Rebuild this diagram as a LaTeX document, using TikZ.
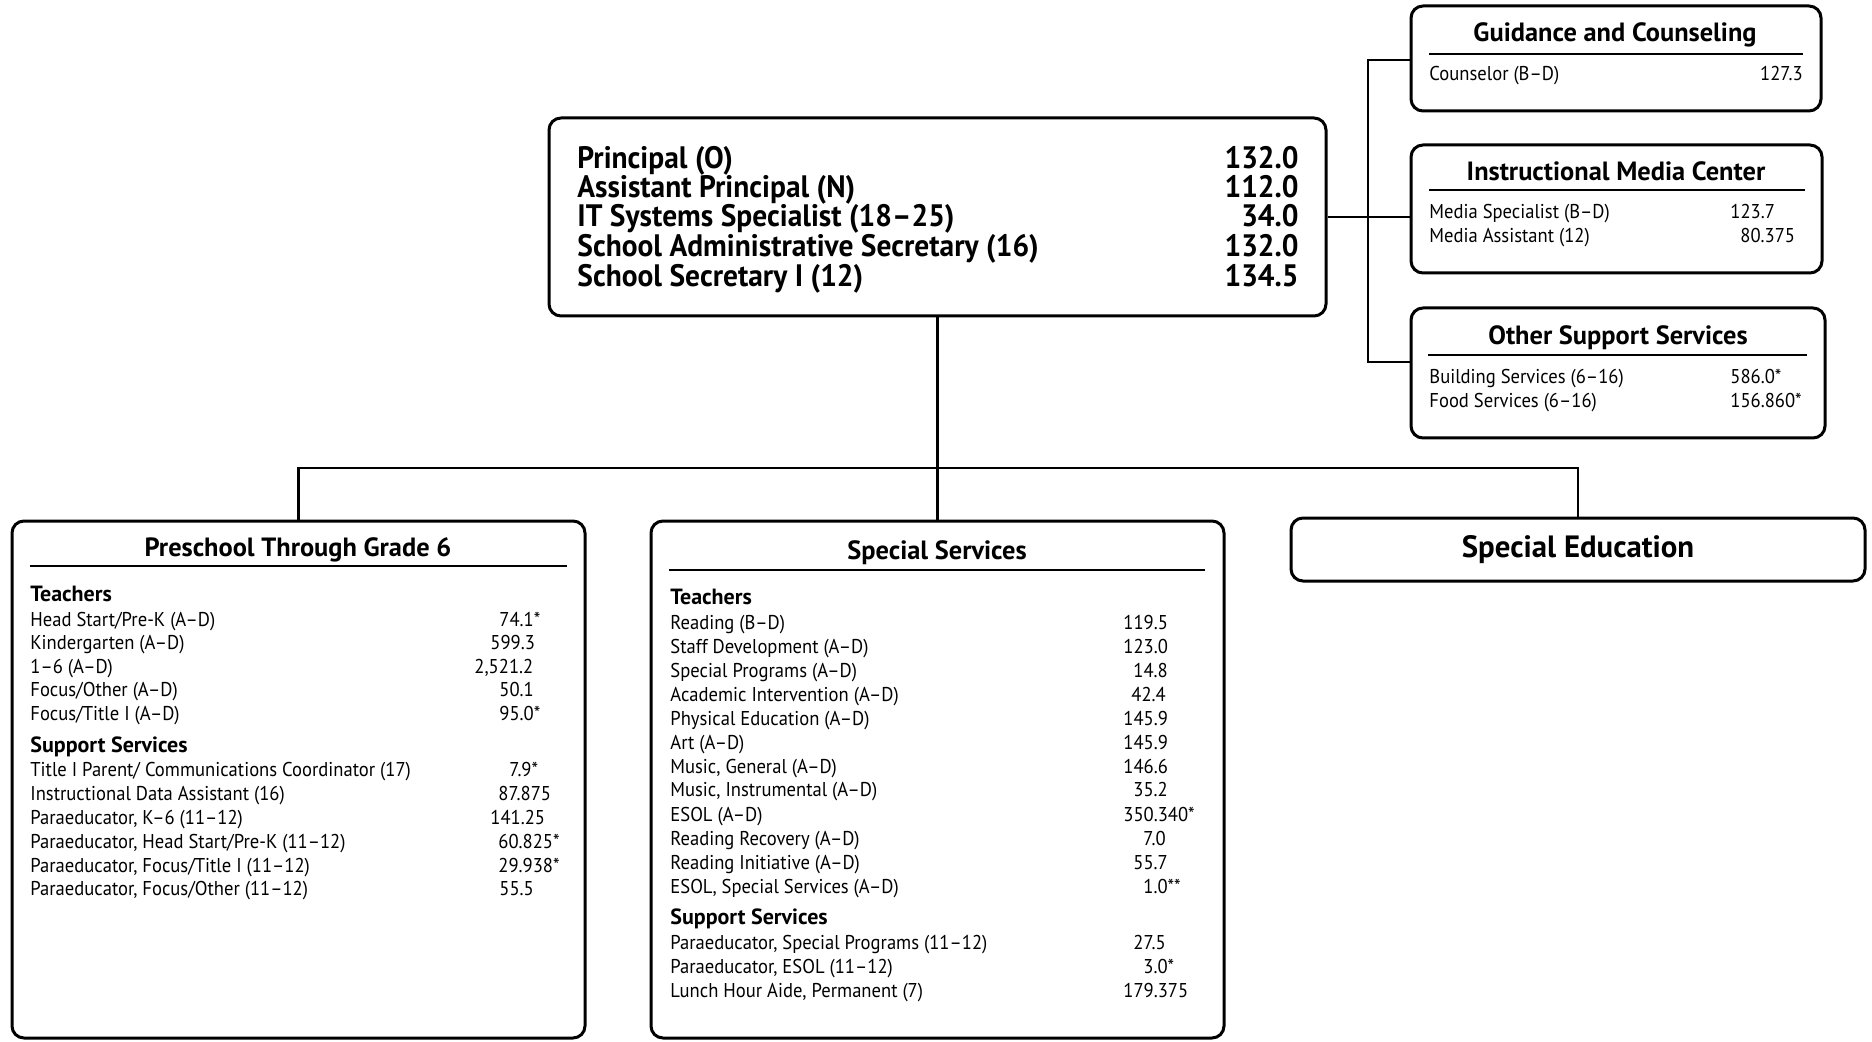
\documentclass[tikz,border=0pt]{standalone}
\usepackage{fontspec}
\setmainfont{PT Sans}
\newfontfamily\bodyfnt{PT Sans}[FakeStretch=0.93]
\newfontfamily\condfnt{PT Sans}[FakeStretch=0.95]
\newfontfamily\headfnt{PT Sans}
\usetikzlibrary{fit}
\tikzset{
  box/.style={draw, line width=1.5pt, rounded corners=6pt, inner sep=0pt},
  conn/.style={line width=1.1pt},
  rulel/.style={line width=0.8pt},
  body/.style={anchor=west, inner sep=0pt, font=\bodyfnt\fontsize{10}{12}\selectfont, text height=1.6ex, text depth=0.25ex},
  bodyr/.style={body, anchor=east},
  sub/.style={body, font=\headfnt\bfseries\fontsize{11}{13}\selectfont},
  head/.style={inner sep=0pt, font=\headfnt\bfseries\fontsize{13.2}{15}\selectfont, text height=1.6ex, text depth=0.25ex, yshift=-1.2pt},
  big/.style={anchor=west, inner sep=0pt, font=\condfnt\bfseries\fontsize{15.5}{17}\selectfont, text height=1.6ex, text depth=0.25ex, yshift=-1.8pt},
  bigr/.style={big, anchor=east},
}
\newcommand\rowitem[6]{%
  \node[body] (#1l) at (#2,#3) {#4};
  \node[body] (#1n) at (#5,#3) {#6};}
\begin{document}
\begin{tikzpicture}[x=0.5pt,y=-0.5pt]
\useasboundingbox[fill=white] (0,0) rectangle (1872,1042);

% ---- main box
\node[box, fit={(549,118) (1326,316)}] (main) {};
\node[big]  (m1) at (577,158) {Principal (O)};
\node[bigr] (m1n) at (1299,158) {132.0};
\node[big]  (m2) at (577,187) {Assistant Principal (N)};
\node[bigr] (m2n) at (1299,187) {112.0};
\node[big]  (m3) at (577,216) {IT Systems Specialist (18–25)};
\node[bigr] (m3n) at (1299,216) {34.0};
\node[big]  (m4) at (577,246) {School Administrative Secretary (16)};
\node[bigr] (m4n) at (1299,246) {132.0};
\node[big]  (m5) at (577,276) {School Secretary I (12)};
\node[bigr] (m5n) at (1299,276) {134.5};

% ---- right boxes
\node[box, fit={(1411,6) (1821,111)}] (guid) {};
\node[head] (guidt) at (1615,32) {Guidance and Counseling};
\draw[rulel] (1429,54) -- (1803,54);
\node[body] (g1l) at (1429,74) {Counselor (B–D)};
\node[bodyr] (g1n) at (1803,74) {127.3};

\node[box, fit={(1411,145) (1822,273)}] (imc) {};
\node[head] (imct) at (1616,171) {Instructional Media Center};
\draw[rulel] (1429,190) -- (1805,190);
\rowitem{i1}{1429}{212}{Media Specialist (B–D)}{1730}{123.7}
\rowitem{i2}{1429}{236}{Media Assistant (12)}{1740}{80.375}

\node[box, fit={(1411,308) (1825,438)}] (oss) {};
\node[head] (osst) at (1618,335) {Other Support Services};
\draw[rulel] (1428,355) -- (1807,355);
\rowitem{o1}{1429}{377}{Building Services (6–16)}{1730}{586.0*}
\rowitem{o2}{1429}{401}{Food Services (6–16)}{1730}{156.860*}

% right connectors
\coordinate (jt) at (1368,60);
\coordinate (jb) at (1368,362);
\draw[conn] (jt -| guid.west) -- (jt) -- (jb) -- (jb -| oss.west);
\draw[conn] (main.east) -- (main.east -| imc.west);

% ---- bottom boxes
\node[box, fit={(12,521) (585,1038)}] (pre) {};
\node[head] (pret) at (298,547) {Preschool Through Grade 6};
\draw[rulel] (30,566) -- (567,566);
\node[sub] (pteach) at (30,595) {Teachers};
\rowitem{p1}{30}{620}{Head Start/Pre-K (A–D)}{499}{74.1*}
\rowitem{p2}{30}{643}{Kindergarten (A–D)}{490}{599.3}
\rowitem{p3}{30}{667}{1–6 (A–D)}{474}{2,521.2}
\rowitem{p4}{30}{690}{Focus/Other (A–D)}{499}{50.1}
\rowitem{p5}{30}{714}{Focus/Title I (A–D)}{499}{95.0*}
\node[sub] (psup) at (30,746) {Support Services};
\rowitem{p6}{30}{770}{Title I Parent/ Communications Coordinator (17)}{509}{7.9*}
\rowitem{p7}{30}{794}{Instructional Data Assistant (16)}{498}{87.875}
\rowitem{p8}{30}{818}{Paraeducator, K–6 (11–12)}{490}{141.25}
\rowitem{p9}{30}{842}{Paraeducator, Head Start/Pre-K (11–12)}{498}{60.825*}
\rowitem{p10}{30}{866}{Paraeducator, Focus/Title I (11–12)}{498}{29.938*}
\rowitem{p11}{30}{889}{Paraeducator, Focus/Other (11–12)}{499}{55.5}

\node[box, fit={(651,521) (1224,1038)}] (ss) {};
\node[head] (sst) at (937,550) {Special Services};
\draw[rulel] (669,570) -- (1205,570);
\node[sub] (steach) at (670,598) {Teachers};
\rowitem{s1}{670}{623}{Reading (B–D)}{1123}{119.5}
\rowitem{s2}{670}{647}{Staff Development (A–D)}{1123}{123.0}
\rowitem{s3}{670}{671}{Special Programs (A–D)}{1133}{14.8}
\rowitem{s4}{670}{695}{Academic Intervention (A–D)}{1131}{42.4}
\rowitem{s5}{670}{719}{Physical Education (A–D)}{1123}{145.9}
\rowitem{s6}{670}{743}{Art (A–D)}{1123}{145.9}
\rowitem{s7}{670}{767}{Music, General (A–D)}{1123}{146.6}
\rowitem{s8}{670}{790}{Music, Instrumental (A–D)}{1133}{35.2}
\rowitem{s9}{670}{815}{ESOL (A–D)}{1123}{350.340*}
\rowitem{s10}{670}{839}{Reading Recovery (A–D)}{1143}{7.0}
\rowitem{s11}{670}{863}{Reading Initiative (A–D)}{1133}{55.7}
\rowitem{s12}{670}{887}{ESOL, Special Services (A–D)}{1143}{1.0**}
\node[sub] (ssup) at (670,918) {Support Services};
\rowitem{s13}{670}{943}{Paraeducator, Special Programs (11–12)}{1133}{27.5}
\rowitem{s14}{670}{967}{Paraeducator, ESOL (11–12)}{1143}{3.0*}
\rowitem{s15}{670}{991}{Lunch Hour Aide, Permanent (7)}{1123}{179.375}

\node[box, fit={(1291,518) (1865,581)}] (sped) {};
\node[head, font=\headfnt\bfseries\fontsize{15.4}{17}\selectfont] (spedt) at (1578,548) {Special Education};

% bottom connectors
\coordinate (bus) at (937,468);
\draw[conn] (main.south) -- (main.south |- bus);
\draw[conn] (pre.north) -- (pre.north |- bus) -- (sped.north |- bus) -- (sped.north);
\draw[conn] (main.south |- bus) -- (ss.north);
\end{tikzpicture}
\end{document}
